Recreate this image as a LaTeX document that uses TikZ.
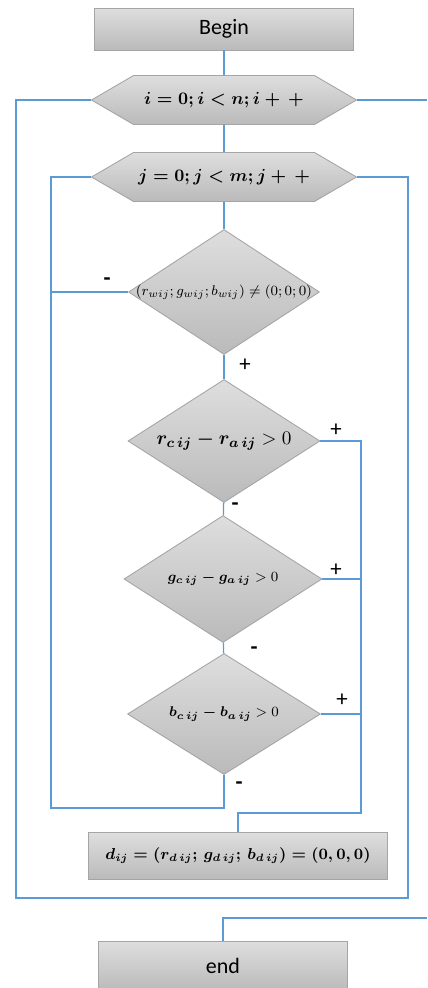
\documentclass[tikz,border=0pt]{standalone}
\usepackage{amsmath,amssymb}
\usepackage[no-math]{fontspec}
\setmainfont{Carlito}
\usepackage{xcolor}
\usetikzlibrary{positioning,calc,shapes.geometric,shapes.symbols}
\definecolor{flowline}{RGB}{91,155,213}
\definecolor{boxtop}{RGB}{222,222,222}
\definecolor{boxbot}{RGB}{186,186,186}
\definecolor{boxedge}{RGB}{165,165,165}

\begin{document}
\begin{tikzpicture}[x=0.02cm,y=-0.02cm,font=\fontsize{12.5}{14}\selectfont,
  grad/.style={draw=boxedge,line width=0.5pt,top color=boxtop,bottom color=boxbot},
  box/.style={grad,rectangle,inner sep=0pt},
  hex/.style={grad,signal,signal to=west and east,signal pointer angle=60.5,
    inner sep=0pt,minimum width=5.3cm,minimum height=0.98cm},
  dia/.style={grad,diamond,inner sep=0pt},
  ln/.style={draw=flowline,line width=0.8pt},
  sg/.style={inner sep=0pt,font=\fontsize{13}{14}\selectfont}]
\useasboundingbox (0,0) rectangle (427,988);
\node[box,minimum width=5.18cm,minimum height=0.84cm] (begin) at (224,29) {Begin};
\node[hex] (iloop) at (224,100) {\makebox[0pt]{\fontsize{10}{12}\selectfont\boldmath$i=0;i<n;i+\,+$}};
\node[hex] (jloop) at (224,177) {\makebox[0pt]{\fontsize{10}{12}\selectfont\boldmath$j=0;j<m;j+\,+$}};
\node[dia,minimum width=3.82cm,minimum height=2.5cm] (chk) at (224,292)
  {\makebox[0pt]{\fontsize{8.5}{10}\selectfont$(r_{wij};g_{wij};b_{wij})\neq(0;0;0)$}};
\node[dia,minimum width=3.84cm,minimum height=2.46cm] (dr) at (224,441)
  {\makebox[0pt]{\fontsize{11}{13}\selectfont$\boldsymbol{r_{c\,ij}-r_{a\,ij}}>0$}};
\node[dia,minimum width=3.96cm,minimum height=2.54cm] (dg) at (223,579)
  {\makebox[0pt]{\fontsize{8.5}{10}\selectfont$\boldsymbol{g_{c\,ij}-g_{a\,ij}}>0$}};
\node[dia,minimum width=3.86cm,minimum height=2.42cm] (db) at (224,714)
  {\makebox[0pt]{\fontsize{8.5}{10}\selectfont$\boldsymbol{b_{c\,ij}-b_{a\,ij}}>0$}};
\node[box,minimum width=5.98cm,minimum height=0.94cm] (dset) at (238,856)
  {\makebox[0pt]{\fontsize{9}{11}\selectfont\boldmath$d_{ij}=(r_{d\,ij};\,g_{d\,ij};\,b_{d\,ij})=(0,0,0)$}};
\node[box,minimum width=4.98cm,minimum height=0.98cm] (fin) at (223,966) {end};

\coordinate (cL) at (51,808);
\coordinate (cO) at (16,898);
\coordinate (cR) at (408,898);
\coordinate (cP) at (361,813);
\coordinate (iout) at (427,100);
\coordinate (eout) at (427,918);

\draw[ln] (begin) -- (iloop);
\draw[ln] (iloop) -- (jloop);
\draw[ln] (jloop) -- (chk);
\draw[ln] (chk) -- (dr);
\draw[ln] (dr) -- (dg);
\draw[ln] (dg) -- (db);
\draw[ln] (db.south) |- (cL) |- (jloop.west);
\draw[ln] (chk.west) -- (chk.west -| cL);
\draw[ln] (jloop.east) -| (cR) -- (cO) |- (iloop.west);
\draw[ln] (dr.east) -| (cP) -| (dset.north);
\draw[ln] (dg.east) -- (dg.east -| cP);
\draw[ln] (db.east) -- (db.east -| cP);
\draw[ln] (iloop.east) -- (iout);
\draw[ln] (eout) -| (fin.north);

\node[sg] (m1) at (107,282) {\textbf{-}};
\node[sg] (p1) at (245,365) {+};
\node[sg] (p2) at (336,430) {+};
\node[sg] (m2) at (235,507) {\textbf{-}};
\node[sg] (p3) at (336,570) {+};
\node[sg] (m3) at (254,651) {\textbf{-}};
\node[sg] (p4) at (342,700) {+};
\node[sg] (m4) at (239,786) {\textbf{-}};
\end{tikzpicture}
\end{document}
